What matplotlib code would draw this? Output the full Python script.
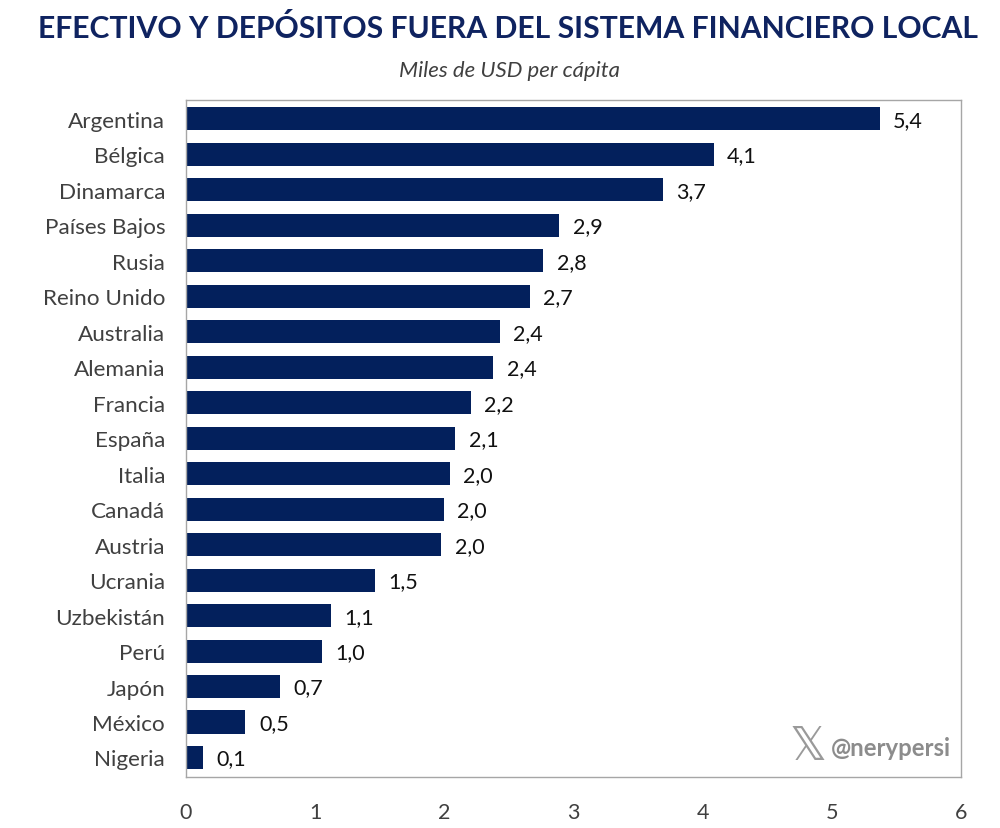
import matplotlib
matplotlib.use('Agg')
import matplotlib.pyplot as plt

plt.rcParams['font.family'] = ['Lato', 'DejaVu Sans']

countries = ['Argentina', 'Bélgica', 'Dinamarca', 'Países Bajos', 'Rusia', 'Reino Unido',
             'Australia', 'Alemania', 'Francia', 'España', 'Italia', 'Canadá', 'Austria',
             'Ucrania', 'Uzbekistán', 'Perú', 'Japón', 'México', 'Nigeria']
# bar lengths
values = [5.37, 4.085, 3.69, 2.89, 2.765, 2.66, 2.43, 2.38, 2.205, 2.085, 2.04, 1.995, 1.975,
          1.46, 1.12, 1.05, 0.73, 0.46, 0.13]
labels = ['5,4', '4,1', '3,7', '2,9', '2,8', '2,7', '2,4', '2,4', '2,2', '2,1', '2,0', '2,0', '2,0',
          '1,5', '1,1', '1,0', '0,7', '0,5', '0,1']
navy = '#03205c'

fig = plt.figure(figsize=(10, 8.29), dpi=100)
ax = fig.add_axes([0.186, 1 - 778 / 829, 0.775, (778 - 101) / 829])

y = list(range(len(countries)))
ax.barh(y, values, height=0.65, color=navy)
ax.set_xlim(0, 6)
ax.set_ylim(len(countries) - 0.5 + 0.05, -0.5 - 0.03)
ax.set_yticks(y)
ax.set_yticklabels(countries, fontsize=16.2, color='#404040')
ax.set_xticks(range(7))
ax.tick_params(axis='x', length=0, labelsize=15.5, labelcolor='#404040', pad=18)
ax.tick_params(axis='y', length=0, pad=15)

for i, v in enumerate(values):
    ax.text(v + 0.105, i + 0.03, labels[i], va='center', ha='left', fontsize=15.5, color='#111111')

for s in ax.spines.values():
    s.set_color('#a6a6a6')
    s.set_linewidth(1)

fig.text(0.5085, 1 - 29 / 829, 'EFECTIVO Y DEPÓSITOS FUERA DEL SISTEMA FINANCIERO LOCAL',
         ha='center', va='center', fontsize=21.7, fontweight='bold', color='#0f2360')
fig.text(0.509, 1 - 71 / 829, 'Miles de USD per cápita', ha='center', va='center',
         fontsize=15.9, fontstyle='italic', color='#404040')

# watermark
fig.text(0.8085, 1 - 748 / 829, '𝕏', ha='center', va='center', fontsize=33, color='#9a9a9a',
         family=['DejaVu Sans'])
fig.text(0.951, 1 - 749 / 829, '@nerypersi', ha='right', va='center', fontsize=17.2,
         fontweight='bold', color='#8c8c8c')

fig.savefig('out.png', dpi=100)
